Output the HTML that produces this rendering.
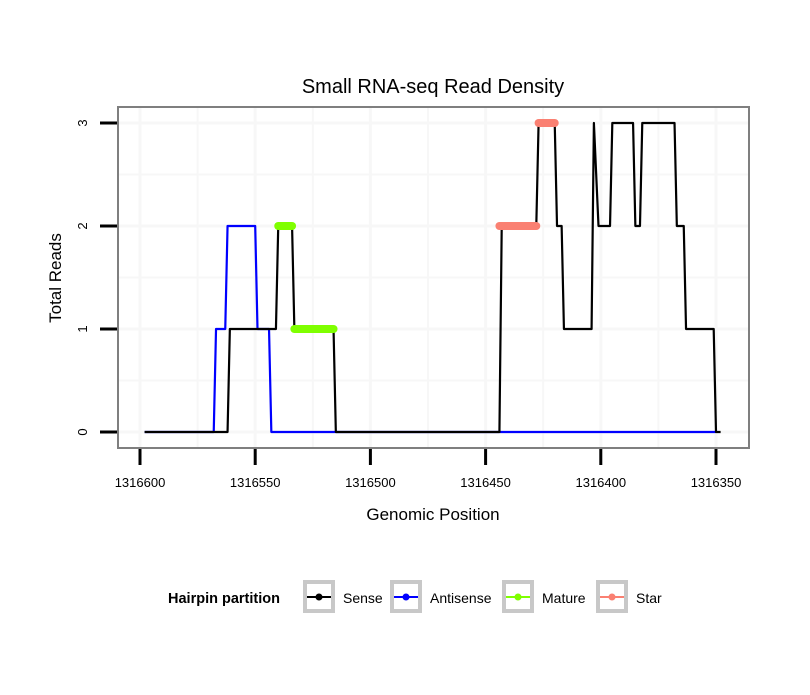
<!DOCTYPE html>
<html><head><meta charset="utf-8"><style>
body{margin:0;background:#fff;}
svg text{font-family:"Liberation Sans",sans-serif;}
</style></head><body>
<svg width="810" height="690" xmlns="http://www.w3.org/2000/svg">
<rect width="810" height="690" fill="#fff"/>
<text x="433" y="93" font-size="20" text-anchor="middle">Small RNA-seq Read Density</text>
<g id="grid"></g>
<rect x="118" y="107" width="631" height="341" fill="none" stroke="#7f7f7f" stroke-width="2"/>
<g id="series"></g>
<g id="axes"></g>
<text x="433" y="520" font-size="17" text-anchor="middle">Genomic Position</text>
<text transform="translate(61,278) rotate(-90)" font-size="17" text-anchor="middle">Total Reads</text>
<g id="legend">
<text x="168" y="603" font-size="14.5" font-weight="bold">Hairpin partition</text>
</g>
</svg>
<script>
const xTicks=[1316600,1316550,1316500,1316450,1316400,1316350];
const yTicks=[0,1,2,3];
const senseX=[1316598,1316562,1316561,1316541,1316540,1316534,1316533,1316516,1316515,1316444,1316443,1316428,1316427,1316420,1316419,1316417,1316416,1316404,1316403,1316401,1316396,1316395,1316386,1316385,1316383,1316382,1316368,1316367,1316364,1316363,1316351,1316350,1316348];
const senseY=[0,0,1,1,2,2,1,1,0,0,2,2,3,3,2,2,1,1,3,2,2,3,3,2,2,3,3,2,2,1,1,0,0];
const antiX=[1316598,1316568,1316567,1316563,1316562,1316550,1316549,1316544,1316543,1316350];
const antiY=[0,0,1,1,2,2,1,1,0,0];
const matureSegs=[[1316540,1316534,2],[1316533,1316516,1]];
const starSegs=[[1316444,1316428,2],[1316427,1316420,3]];
const legendLabels=["Sense","Antisense","Mature","Star"];
const legendColors=["#000000","#0000ff","#7fff00","#fa8072"];

const NS="http://www.w3.org/2000/svg";
function X(v){return 140+(1316600-v)*2.304;}
function Y(v){return 432-v*103;}
function mk(tag,attrs,parent){const e=document.createElementNS(NS,tag);for(const k in attrs)e.setAttribute(k,attrs[k]);parent.appendChild(e);return e;}
const grid=document.getElementById('grid'),ser=document.getElementById('series'),ax=document.getElementById('axes'),leg=document.getElementById('legend');
const mx=[];for(let i=0;i<xTicks.length;i++){mx.push(xTicks[i]);if(i<xTicks.length-1)mx.push((xTicks[i]+xTicks[i+1])/2);}
mx.push(1316325);
mx.forEach((v,i)=>{const x=X(v);if(x<118||x>749)return;const l=mk('line',{x1:x,x2:x,y1:108,y2:447,stroke:'#f7f7f7','stroke-width':i%2?2:3},grid);

});
[-0.5,0,0.5,1,1.5,2,2.5,3,3.5].forEach((v,i)=>{const y=Y(v);if(y<108||y>447)return;const l=mk('line',{x1:119,x2:748,y1:y,y2:y,stroke:'#f7f7f7','stroke-width':Number.isInteger(v)?3:2},grid);

});
function line(xs,ys,color,name){const p=xs.map((v,i)=>X(v)+','+Y(ys[i])).join(' ');const e=mk('polyline',{points:p,fill:'none',stroke:color,'stroke-width':2.2,'stroke-linejoin':'round'},ser);

}
line(antiX,antiY,'#0000ff','antisense-line');
line(senseX,senseY,'#000000','sense-line');
function segs(arr,color,name){arr.forEach(s=>{const e=mk('line',{x1:X(s[0]),x2:X(s[1]),y1:Y(s[2]),y2:Y(s[2]),stroke:color,'stroke-width':8,'stroke-linecap':'round'},ser);

});}
segs(matureSegs,'#7fff00','mature-segment');
segs(starSegs,'#fa8072','star-segment');
xTicks.forEach(v=>{const x=X(v);const t=mk('line',{x1:x,x2:x,y1:449,y2:465,stroke:'#000','stroke-width':3},ax);


const tx=mk('text',{x:x,y:487,'font-size':13,'text-anchor':'middle'},ax);tx.textContent=v;

});
yTicks.forEach(v=>{const y=Y(v);const t=mk('line',{x1:100,x2:117,y1:y,y2:y,stroke:'#000','stroke-width':3},ax);


const tx=mk('text',{transform:`translate(87,${y}) rotate(-90)`,'font-size':13,'text-anchor':'middle'},ax);tx.textContent=v;

});
const lx=[303,390,502,596];
legendLabels.forEach((lab,i)=>{const x=lx[i];const g=mk('g',{},leg);


mk('rect',{x:x+2,y:582,width:28,height:29,fill:'#fff',stroke:'#c8c8c8','stroke-width':4},g);
mk('line',{x1:x+4,x2:x+28,y1:597,y2:597,stroke:legendColors[i],'stroke-width':2},g);
mk('circle',{cx:x+16,cy:597,r:3.5,fill:legendColors[i]},g);
const t=mk('text',{x:x+40,y:603,'font-size':14},g);t.textContent=lab;});
</script>
</body></html>
